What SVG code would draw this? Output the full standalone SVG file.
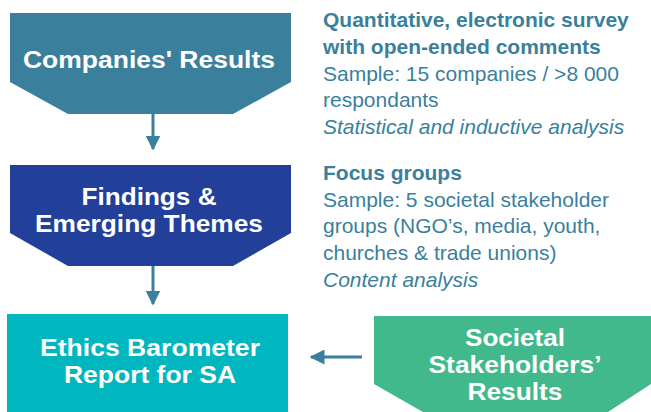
<svg xmlns="http://www.w3.org/2000/svg" width="651" height="412" viewBox="0 0 651 412">
<defs>
<style>
.bt{font-family:"Liberation Sans",Arial,sans-serif;font-weight:bold;font-size:24px;fill:#fff;text-anchor:middle}
.st{font-family:"Liberation Sans",Arial,sans-serif;font-size:21px;fill:#3A7F9C}
.b{font-weight:bold}
.i{font-style:italic}
.conn{stroke:#3A7F9C;stroke-width:3;fill:none}
</style>
<marker id="ah" markerWidth="5" markerHeight="5" refX="4.5" refY="2.5" orient="auto" markerUnits="strokeWidth">
<path d="M0,0 L5,2.5 L0,5 Z" fill="#3A7F9C"/>
</marker>
</defs>
<g id="companies">
<path d="M10,13 H291 V82 L233,114 H68 L10,82 Z" fill="#3A809D"/>
<text class="bt" x="149" y="68" font-size="25" textLength="252" lengthAdjust="spacingAndGlyphs">Companies' Results</text>
</g>
<g id="findings">
<path d="M10,165 H291 V233 L233,266 H68 L10,233 Z" fill="#223F99"/>
<text class="bt" x="149" y="205" textLength="135" lengthAdjust="spacingAndGlyphs">Findings &amp;</text>
<text class="bt" x="149" y="232" textLength="228" lengthAdjust="spacingAndGlyphs">Emerging Themes</text>
</g>
<g id="report">
<rect x="7" y="314" width="281" height="98" fill="#00B6BF"/>
<text class="bt" x="150" y="356" textLength="220" lengthAdjust="spacingAndGlyphs">Ethics Barometer</text>
<text class="bt" x="150" y="383" textLength="172" lengthAdjust="spacingAndGlyphs">Report for SA</text>
</g>
<g id="societal">
<path d="M374,316 H651 V384 L608,412 H423 L374,384 Z" fill="#41B98C"/>
<text class="bt" x="515" y="346" textLength="100" lengthAdjust="spacingAndGlyphs">Societal</text>
<text class="bt" x="515" y="373" textLength="173" lengthAdjust="spacingAndGlyphs">Stakeholders’</text>
<text class="bt" x="515" y="400" textLength="95" lengthAdjust="spacingAndGlyphs">Results</text>
</g>
<g id="survey-text">
<text class="st b" x="323" y="27">Quantitative, electronic survey</text>
<text class="st b" x="323" y="54">with open-ended comments</text>
<text class="st" x="323" y="81">Sample: 15 companies / &gt;8 000</text>
<text class="st" x="323" y="107">respondants</text>
<text class="st i" x="323" y="134">Statistical and inductive analysis</text>
</g>
<g id="focus-text">
<text class="st b" x="323" y="180">Focus groups</text>
<text class="st" x="323" y="207">Sample: 5 societal stakeholder</text>
<text class="st" x="323" y="233">groups (NGO’s, media, youth,</text>
<text class="st" x="323" y="260">churches &amp; trade unions)</text>
<text class="st i" x="323" y="287">Content analysis</text>
</g>
<g id="connectors">
<line class="conn" x1="153" y1="114" x2="153" y2="149" marker-end="url(#ah)"/>
<line class="conn" x1="153" y1="266" x2="153" y2="304" marker-end="url(#ah)"/>
<line class="conn" x1="362" y1="357" x2="311" y2="357" marker-end="url(#ah)"/>
</g>
</svg>
